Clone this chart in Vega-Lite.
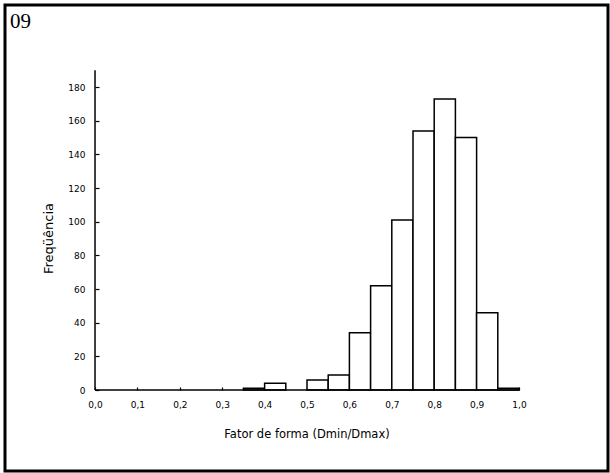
{
  "$schema": "https://vega.github.io/schema/vega-lite/v6.json",
  "width": 603,
  "height": 466,
  "autosize": "none",
  "padding": {"left": 5, "top": 5, "right": 2, "bottom": 2},
  "background": "white",
  "config": {
    "view": {"stroke": "black", "strokeWidth": 3},
    "axis": {"grid": false, "domain": false, "tickColor": "black", "labelColor": "black", "titleColor": "black"}
  },
  "title": {"text": "09", "anchor": "start", "frame": "group", "orient": "top", "offset": -27, "dx": 5, "font": "Liberation Serif", "fontSize": 21, "fontWeight": "normal", "color": "black"},
  "layer": [
    {
      "data": {"values": [
        {"bin_start": 0.35, "bin_end": 0.40, "count": 1},
        {"bin_start": 0.40, "bin_end": 0.45, "count": 4},
        {"bin_start": 0.50, "bin_end": 0.55, "count": 6},
        {"bin_start": 0.55, "bin_end": 0.60, "count": 9},
        {"bin_start": 0.60, "bin_end": 0.65, "count": 34},
        {"bin_start": 0.65, "bin_end": 0.70, "count": 62},
        {"bin_start": 0.70, "bin_end": 0.75, "count": 101},
        {"bin_start": 0.75, "bin_end": 0.80, "count": 154},
        {"bin_start": 0.80, "bin_end": 0.85, "count": 173},
        {"bin_start": 0.85, "bin_end": 0.90, "count": 150},
        {"bin_start": 0.90, "bin_end": 0.95, "count": 46},
        {"bin_start": 0.95, "bin_end": 1.00, "count": 1}
      ]},
      "mark": {"type": "bar", "fill": "white", "stroke": "black", "strokeWidth": 1.5},
      "encoding": {
        "x": {
          "field": "bin_start", "type": "quantitative",
          "scale": {"domain": [-0.2123, 1.2099], "nice": false, "zero": false},
          "axis": {
            "title": "Fator de forma (Dmin/Dmax)",
            "offset": -81,
            "values": [0, 0.05, 0.1, 0.15, 0.2, 0.25, 0.3, 0.35, 0.4, 0.45, 0.5, 0.55, 0.6, 0.65, 0.7, 0.75, 0.8, 0.85, 0.9, 0.95, 1.0],
            "labelExpr": "round(datum.value*20) % 2 == 0 ? replace(format(datum.value, '.1f'), '.', ',') : ''",
            "tickSize": -3,
            "tickWidth": 1.2,
            "labelPadding": 13,
            "labelFont": "DejaVu Sans",
            "labelFontSize": 9,
            "labelFlush": false,
            "titleFont": "DejaVu Sans",
            "titleFontSize": 11.5,
            "titleFontWeight": "normal",
            "titlePadding": 19
          }
        },
        "x2": {"field": "bin_end"},
        "y": {
          "field": "count", "type": "quantitative",
          "scale": {"domain": [-48.1, 228.8], "nice": false, "zero": false},
          "axis": {
            "title": "Freqüência",
            "offset": -90,
            "values": [0, 10, 20, 30, 40, 50, 60, 70, 80, 90, 100, 110, 120, 130, 140, 150, 160, 170, 180],
            "labelExpr": "datum.value % 20 == 0 ? datum.label : ''",
            "tickSize": -4,
            "tickWidth": 1.2,
            "labelPadding": 14,
            "labelFont": "DejaVu Sans",
            "labelFontSize": 9,
            "labelFlush": false,
            "titleFont": "DejaVu Sans",
            "titleFontSize": 13,
            "titleFontWeight": "normal",
            "titlePadding": 12
          }
        },
        "y2": {"datum": 0}
      }
    },
    {
      "data": {"values": [
        {"x": 0, "x2": 1, "y": 0, "y2": 0},
        {"x": 0, "x2": 0, "y": 0, "y2": 190}
      ]},
      "mark": {"type": "rule", "strokeWidth": 1.5, "color": "black"},
      "encoding": {
        "x": {"field": "x", "type": "quantitative", "title": "Fator de forma (Dmin/Dmax)"},
        "x2": {"field": "x2"},
        "y": {"field": "y", "type": "quantitative", "title": "Freqüência"},
        "y2": {"field": "y2"}
      }
    }
  ]
}
